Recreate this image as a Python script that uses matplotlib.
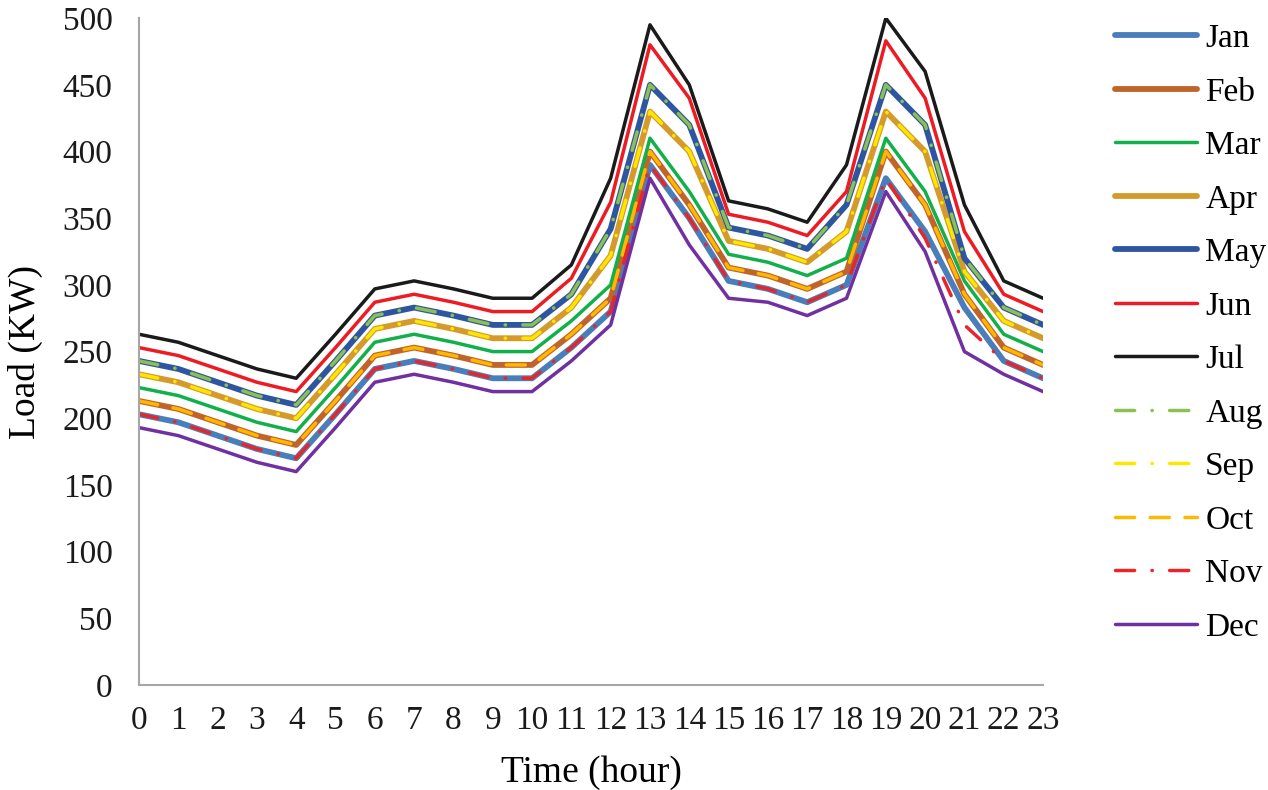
import matplotlib
matplotlib.use("Agg")
import matplotlib.pyplot as plt

plt.rcParams['font.family'] = ['Liberation Serif', 'DejaVu Serif']

hours = list(range(24))
months = ['Jan', 'Feb', 'Mar', 'Apr', 'May', 'Jun',
          'Jul', 'Aug', 'Sep', 'Oct', 'Nov', 'Dec']

jan = [203, 197, 187, 177, 170, 203, 237, 243, 237, 230, 230, 253,
       280, 390, 350, 303, 297, 287, 300, 380, 340, 283, 243, 230]
feb = [213, 207, 197, 187, 180, 213, 247, 253, 247, 240, 240, 263,
       290, 400, 360, 313, 307, 297, 310, 400, 360, 293, 253, 240]
mar = [223, 217, 207, 197, 190, 223, 257, 263, 257, 250, 250, 273,
       300, 410, 370, 323, 317, 307, 320, 410, 370, 303, 263, 250]
apr = [233, 227, 217, 207, 200, 233, 267, 273, 267, 260, 260, 283,
       322, 430, 400, 333, 327, 317, 340, 430, 400, 310, 273, 260]
may = [243, 237, 227, 217, 210, 243, 277, 283, 277, 270, 270, 293,
       342, 450, 420, 343, 337, 327, 360, 450, 420, 320, 283, 270]
jun = [253, 247, 237, 227, 220, 253, 287, 293, 287, 280, 280, 305,
       362, 480, 440, 353, 347, 337, 370, 483, 440, 340, 293, 280]
jul = [263, 257, 247, 237, 230, 263, 297, 303, 297, 290, 290, 315,
       380, 495, 450, 363, 357, 347, 390, 500, 460, 360, 303, 290]
aug = list(may)
sep = list(apr)
oct_ = list(feb)
nov = [203, 197, 187, 177, 170, 203, 237, 243, 237, 230, 230, 253,
       280, 390, 350, 303, 297, 287, 300, 380, 335, 270, 243, 230]
dec = [193, 187, 177, 167, 160, 193, 227, 233, 227, 220, 220, 243,
       270, 380, 330, 290, 287, 277, 290, 370, 325, 250, 233, 220]

series = [jan, feb, mar, apr, may, jun, jul, aug, sep, oct_, nov, dec]

colors = ['#4a7ebb', '#c0652a', '#12b04b', '#d49b2a', '#2e56a0', '#ed1c24',
          '#1a1a1a', '#8cc152', '#ffe600', '#ffb800', '#e8262a', '#7030a0']
dashdot = (0, (5.5, 5, 0.1, 5))
dashed = (0, (5.5, 4.5))
styles = ['-', '-', '-', '-', '-', '-', '-', dashdot, dashdot, dashed, dashdot, '-']
widths = [4.2, 4.2, 2.5, 4.2, 4.2, 2.5, 2.5, 2.5, 2.5, 2.5, 2.5, 2.5]

fig = plt.figure(figsize=(12.68, 7.90), dpi=100)
ax = fig.add_axes([0.1096, 0.1329, 0.713, 0.8441])

for vals, name, c, ls, lw in zip(series, months, colors, styles, widths):
    ax.plot(hours, vals, color=c, linestyle=ls, linewidth=lw, label=name,
            dash_capstyle='round', solid_capstyle='round')

ax.set_xlim(0, 23)
ax.set_ylim(0, 500)
ax.set_xticks(hours)
ax.set_yticks(range(0, 501, 50))
ax.tick_params(length=0, labelsize=24, colors='#1a1a1a')
ax.tick_params(axis='y', pad=19)
ax.tick_params(axis='x', pad=15)
for side in ['top', 'right']:
    ax.spines[side].set_visible(False)
for side in ['left', 'bottom']:
    ax.spines[side].set_color('#a6a6a6')
    ax.spines[side].set_linewidth(1.5)

ax.set_xlabel('Time (hour)', fontsize=27, labelpad=14)
ax.set_ylabel('Load (KW)', fontsize=27, labelpad=14)

ax.legend(loc='upper left', bbox_to_anchor=(0.869, 0.987),
          bbox_transform=fig.transFigure, frameon=False, fontsize=24,
          handlelength=2.45, handletextpad=0.25, labelspacing=0.69,
          borderaxespad=0)

plt.savefig('out.png', dpi=100)
